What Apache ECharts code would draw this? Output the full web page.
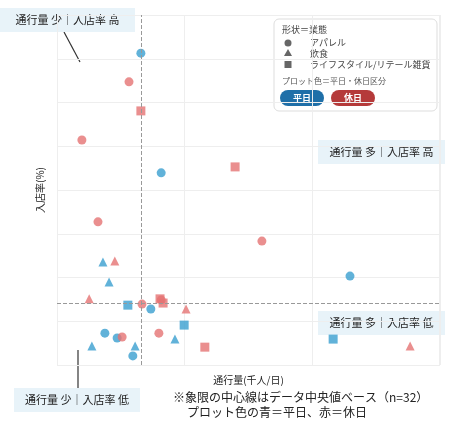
<!DOCTYPE html>
<html>
<head>
<meta charset="UTF-8">
<script src="https://cdn.jsdelivr.net/npm/echarts@6/dist/echarts.min.js"></script>
<style>
  *{margin:0;padding:0}
  html,body{width:450px;height:428px;background:#fff}
  #main{width:450px;height:428px}
</style>
</head>
<body>
<div id="main"></div>
<script>
// [通行量, 入店率] (相対値)
var weekdayApparel = [[21.9,89.1],[27.2,54.9],[76.5,25.4],[24.5,16.0],[12.5,9.1],[15.7,7.7],[19.8,2.6]];
var holidayApparel = [[18.8,80.9],[6.5,64.3],[10.7,40.9],[53.5,35.4],[22.2,17.4],[17.0,8.0],[26.6,9.1],[27.2,18.6]];
var weekdayFood = [[12.0,29.4],[13.6,23.7],[9.1,5.4],[20.4,5.4],[30.8,7.4]];
var holidayFood = [[15.1,29.7],[8.4,18.9],[33.7,16.0],[92.2,5.4]];
var weekdayRetail = [[18.5,17.1],[33.2,11.4],[72.1,7.4]];
var holidayRetail = [[21.9,72.6],[46.5,56.6],[26.9,18.9],[27.7,17.7],[38.6,5.1]];
var medianX = 21.9, medianY = 17.7;

var BLUE = '#3a9fd0', RED = '#e57373';
var F = '"Noto Sans CJK JP", sans-serif';
var chart = echarts.init(document.getElementById('main'));

function s(data, sym, color, size) {
  return {type:'scatter', data:data, symbol:sym, symbolSize:size,
    itemStyle:{color:color}, silent:true};
}
function ctext(x, y, text, fill, font) {
  return {type:'text', x:x, y:y, style:{text:text, fill:fill, font:font,
    align:'center', verticalAlign:'middle', textAlign:'center', textVerticalAlign:'middle'}};
}
function box(x, y, w, h, text) {
  return {type:'group', x:x, y:y, children:[
    {type:'rect', shape:{width:w, height:h}, style:{fill:'#e8f3f9'}},
    ctext(w/2, h/2, text, '#222', '11px ' + F)
  ]};
}

var series = [
  s(weekdayApparel, 'circle', BLUE, 9),
  s(holidayApparel, 'circle', RED, 9),
  s(weekdayFood, 'triangle', BLUE, 9),
  s(holidayFood, 'triangle', RED, 9),
  s(weekdayRetail, 'rect', BLUE, 9),
  s(holidayRetail, 'rect', RED, 9)
];
series[0].markLine = {silent:true, symbol:'none', label:{show:false},
  lineStyle:{color:'#999', type:'dashed', width:1},
  data:[{xAxis:medianX},{yAxis:medianY}]};

chart.setOption({
  animation:false,
  grid:{left:57, right:10, top:15, bottom:63},
  xAxis:{type:'value', min:0, max:100, interval:33.3,
    name:'通行量(千人/日)', nameLocation:'middle', nameGap:10,
    nameTextStyle:{fontFamily:F, fontSize:10, color:'#222'},
    axisLine:{show:false}, axisTick:{show:false}, axisLabel:{show:false},
    splitLine:{lineStyle:{color:'#eee'}}},
  yAxis:{type:'value', min:0, max:100, interval:12.5,
    name:'入店率(%)', nameLocation:'middle', nameGap:12,
    nameTextStyle:{fontFamily:F, fontSize:10, color:'#222'},
    axisLine:{show:false}, axisTick:{show:false}, axisLabel:{show:false},
    splitLine:{lineStyle:{color:'#eee'}}},
  series:series,
  graphic:[
    {type:'line', shape:{x1:64, y1:32, x2:80, y2:62}, style:{stroke:'#333', lineWidth:1.2}},
    {type:'line', shape:{x1:78, y1:350, x2:78, y2:388}, style:{stroke:'#333', lineWidth:1.2}},
    box(0, 8, 135, 24, '通行量 少｜入店率 高'),
    box(318, 140, 127, 24, '通行量 多｜入店率 高'),
    box(318, 311, 127, 24, '通行量 多｜入店率 低'),
    box(14, 388, 126, 24, '通行量 少｜入店率 低'),
    {type:'text', x:173, y:391, style:{text:'※象限の中心線はデータ中央値ベース（n=32）', fill:'#222', font:'12px ' + F}},
    {type:'text', x:187, y:406, style:{text:'プロット色の青＝平日、赤＝休日', fill:'#222', font:'12px ' + F}},
    {type:'group', x:274, y:19, children:[
      {type:'rect', shape:{width:163, height:92, r:5}, style:{fill:'#fff', stroke:'#ddd', lineWidth:1}},
      {type:'text', x:8, y:6, style:{text:'形状＝業態', fill:'#444', font:'9px ' + F}},
      {type:'circle', shape:{cx:14, cy:24, r:3.5}, style:{fill:'#666'}},
      {type:'text', x:36, y:19, style:{text:'アパレル', fill:'#444', font:'9px ' + F}},
      {type:'polygon', shape:{points:[[14,30],[18,37],[10,37]]}, style:{fill:'#666'}},
      {type:'text', x:36, y:30, style:{text:'飲食', fill:'#444', font:'9px ' + F}},
      {type:'rect', shape:{x:10.5, y:42, width:7, height:7}, style:{fill:'#666'}},
      {type:'text', x:36, y:41, style:{text:'ライフスタイル/リテール雑貨', fill:'#444', font:'9px ' + F}},
      {type:'text', x:8, y:58, style:{text:'プロット色＝平日・休日区分', fill:'#555', font:'8px ' + F}},
      {type:'rect', shape:{x:6, y:71, width:44, height:16, r:8}, style:{fill:'#1f6fa8'}},
      ctext(28, 79, '平日', '#fff', 'bold 9px ' + F),
      {type:'rect', shape:{x:57, y:71, width:44, height:16, r:8}, style:{fill:'#b53a3a'}},
      ctext(79, 79, '休日', '#fff', 'bold 9px ' + F)
    ]}
  ]
});
</script>
</body>
</html>
